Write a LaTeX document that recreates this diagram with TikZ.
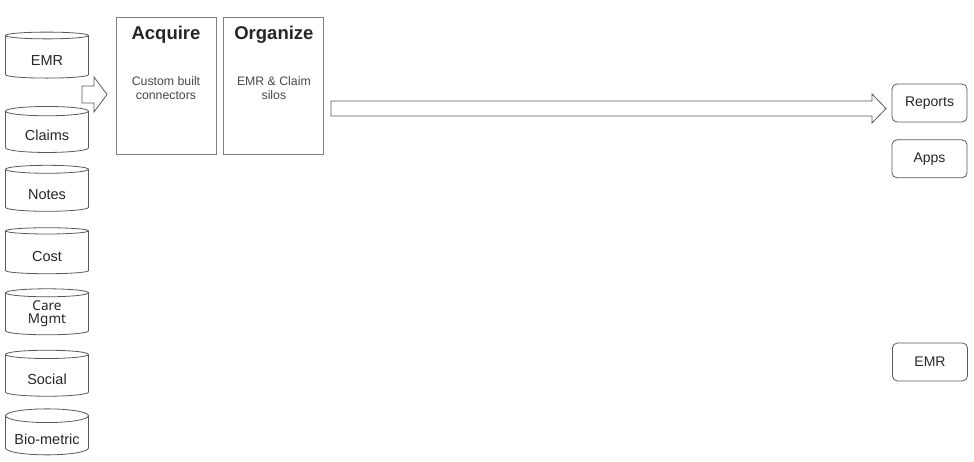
\documentclass[tikz,border=0pt]{standalone}
\usepackage{fontspec}
\setmainfont{Liberation Sans}
\newfontfamily\carefont{Noto Sans}
\usetikzlibrary{shapes.geometric}
\usetikzlibrary{positioning,calc}
\definecolor{boxline}{HTML}{808080}
\definecolor{dbline}{HTML}{595959}
\definecolor{ink}{HTML}{262626}

\begin{document}
\begin{tikzpicture}[x=1pt,y=-1pt,
  db/.style={draw=dbline, line width=.8pt, cylinder, shape border rotate=90, aspect=0.21,
    minimum width=83pt, minimum height=46pt, inner sep=0pt, text=ink, align=center,
    text height=18pt, text depth=0pt, font=\fontsize{14.5}{16}\selectfont},
  dbalt/.style={db, text height=, text depth=, font=\carefont\fontsize{13.5}{13}\selectfont},
  stage/.style={draw=boxline, line width=.9pt, minimum width=100pt, minimum height=137pt, inner sep=0pt},
  stagetitle/.style={font=\fontsize{18.5}{20}\selectfont\bfseries, text=ink, inner sep=0pt},
  stagebody/.style={font=\fontsize{12.3}{14}\selectfont, text=ink!85, inner sep=0pt, align=center},
  target/.style={draw=dbline, line width=.8pt, rounded corners=5pt, minimum width=75pt, minimum height=38pt,
    inner sep=0pt, text=ink, font=\fontsize{14}{16}\selectfont},
  flow/.style={draw=dbline, line width=.8pt, line join=miter}]
\useasboundingbox (0,0) rectangle (974,462);

% data sources
\foreach \n/\y/\t/\s in {emr/57/EMR/db, claims/132/Claims/db, notes/190.5/Notes/db, cost/252.5/Cost/db,
  care/314/{Care\\Mgmt}/dbalt, social/375.5/Social/db, bio/435.5/Bio-metric/db}
 \node[\s] (\n) at (47,\y) {\t};

% stages
\node[stage] (acq) at (166,85.5) {};
\node[stage, right=7pt of acq] (org) {};
\node[stagetitle, below=9pt of acq.north] (acqtitle) {Acquire};
\node[stagetitle, below=9pt of org.north] (orgtitle) {Organize};
\node[stagebody, below=60pt of acq.north] (acqbody) {Custom built\\connectors};
\node[stagebody, below=60pt of org.north] (orgbody) {EMR \& Claim\\silos};

% outputs
\node[target] (rep) at (929.5,103) {Reports};
\node[target, below=17pt of rep] (apps) {Apps};
\node[target] (emrout) at (930,362) {EMR};

% block arrows
\coordinate (intail) at (82,94.5);
\coordinate (intip) at (107,94.5);
\draw[flow] (intail) ++(0,-8.5) -- ++(12,0) -- ++(0,-9) -- (intip) -- ++(-13,17.5) -- ++(0,-9) -- ++(-12,0) -- cycle;
\coordinate (ftail) at (331,108.5);
\coordinate (ftip) at (886,108.5);
\draw[flow] (ftail) ++(0,-7.5) -- ++(541,0) -- ++(0,-7) -- (ftip) -- ++(-14,14.5) -- ++(0,-7) -- ++(-541,0) -- cycle;
\end{tikzpicture}
\end{document}
